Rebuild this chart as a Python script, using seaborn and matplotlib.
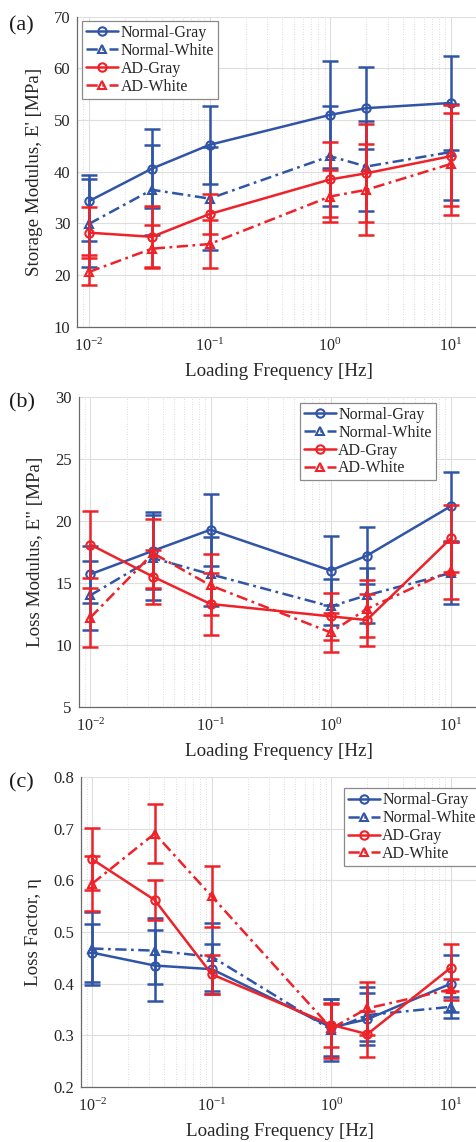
import numpy as np
import pandas as pd
import matplotlib
matplotlib.use('Agg')
import matplotlib.pyplot as plt
import seaborn as sns
from matplotlib.ticker import LogLocator, MultipleLocator, NullFormatter

# loading frequencies [Hz]
freq = [0.01, 0.0333, 0.1, 1.0, 2.0, 10.0]
groups = ['Normal-Gray', 'Normal-White', 'AD-Gray', 'AD-White']

# (a) storage modulus E' [MPa] : mean, bottom and top of error bar
storage_mean = {'Normal-Gray': [34.3, 40.6, 45.2, 51.0, 52.3, 53.3],
                'Normal-White': [29.9, 36.5, 34.8, 43.0, 41.0, 43.8],
                'AD-Gray': [28.2, 27.4, 31.8, 38.5, 39.7, 43.0],
                'AD-White': [20.6, 25.1, 26.0, 35.2, 36.5, 41.5]}
storage_lo = {'Normal-Gray': [26.5, 33.0, 37.7, 40.7, 44.3, 44.2],
              'Normal-White': [21.5, 27.8, 24.8, 33.4, 32.3, 34.5],
              'AD-Gray': [23.3, 21.4, 27.9, 31.2, 30.3, 33.3],
              'AD-White': [18.0, 21.6, 21.4, 30.2, 27.7, 31.6]}
storage_hi = {'Normal-Gray': [39.3, 48.2, 52.7, 61.4, 60.3, 62.4],
              'Normal-White': [38.6, 45.2, 44.8, 52.7, 49.8, 53.1],
              'AD-Gray': [33.2, 33.3, 35.7, 45.8, 49.2, 52.9],
              'AD-White': [23.9, 29.7, 30.6, 40.3, 45.3, 51.4]}

# (b) loss modulus E'' [MPa]
loss_mean = {'Normal-Gray': [15.7, 17.6, 19.3, 16.0, 17.2, 21.2],
             'Normal-White': [14.0, 17.0, 15.7, 13.1, 14.0, 15.8],
             'AD-Gray': [18.1, 15.5, 13.3, 12.3, 12.0, 18.6],
             'AD-White': [12.2, 17.4, 14.8, 11.0, 12.9, 16.0]}
loss_lo = {'Normal-Gray': [13.4, 14.5, 16.4, 13.2, 14.9, 18.4],
           'Normal-White': [11.2, 13.6, 13.1, 11.6, 11.8, 13.3],
           'AD-Gray': [15.4, 13.3, 10.8, 10.4, 9.9, 15.9],
           'AD-White': [9.8, 14.6, 12.4, 9.4, 10.6, 13.7]}
loss_hi = {'Normal-Gray': [18.0, 20.7, 22.2, 18.8, 19.5, 24.0],
           'Normal-White': [16.8, 20.5, 18.7, 15.3, 16.2, 18.3],
           'AD-Gray': [20.8, 17.7, 15.8, 14.2, 14.1, 21.3],
           'AD-White': [14.6, 20.2, 17.3, 12.6, 15.2, 18.3]}

# (c) loss factor eta
eta_mean = {'Normal-Gray': [0.460, 0.435, 0.428, 0.315, 0.331, 0.400],
            'Normal-White': [0.468, 0.464, 0.452, 0.310, 0.339, 0.355],
            'AD-Gray': [0.641, 0.562, 0.418, 0.320, 0.302, 0.431],
            'AD-White': [0.594, 0.691, 0.569, 0.313, 0.352, 0.389]}
eta_lo = {'Normal-Gray': [0.404, 0.366, 0.380, 0.259, 0.281, 0.345],
          'Normal-White': [0.397, 0.400, 0.386, 0.250, 0.288, 0.333],
          'AD-Gray': [0.581, 0.523, 0.380, 0.278, 0.258, 0.386],
          'AD-White': [0.541, 0.634, 0.510, 0.256, 0.300, 0.369]}
eta_hi = {'Normal-Gray': [0.516, 0.504, 0.477, 0.371, 0.381, 0.455],
          'Normal-White': [0.539, 0.528, 0.518, 0.370, 0.394, 0.374],
          'AD-Gray': [0.701, 0.601, 0.456, 0.362, 0.346, 0.476],
          'AD-White': [0.647, 0.748, 0.628, 0.360, 0.404, 0.409]}

blue = '#3155a6'
red = '#ee2228'
dashdot = (0, (4.5, 1.8, 1.1, 1.8))
styles = {'Normal-Gray': (blue, '-', 'o'),
          'Normal-White': (blue, dashdot, '^'),
          'AD-Gray': (red, '-', 'o'),
          'AD-White': (red, dashdot, '^')}

sns.set_style('white')
plt.rcParams['font.family'] = ['Liberation Serif', 'DejaVu Serif']
plt.rcParams['mathtext.fontset'] = 'stix'
plt.rcParams['axes.unicode_minus'] = False


def draw_panel(ax, mean, lo, hi, ylim, ystep, ylabel, leg_xy):
    for g in groups:
        col, ls, mk = styles[g]
        m = np.array(mean[g])
        err = [m - np.array(lo[g]), np.array(hi[g]) - m]
        ax.errorbar(freq, m, yerr=err, fmt='none', ecolor=col,
                    elinewidth=1.8, capsize=5.5, capthick=1.8)
        df = pd.DataFrame({'freq': freq, 'val': m})
        sns.lineplot(data=df, x='freq', y='val', ax=ax, color=col,
                     linestyle=ls, marker=mk, markersize=6, mfc='none',
                     mec=col, mew=1.5, lw=1.8, label=g, sort=False,
                     errorbar=None)
    ax.set_xscale('log')
    ax.set_xlim(0.008, 17.5)
    ax.set_ylim(*ylim)
    ax.yaxis.set_major_locator(MultipleLocator(ystep))
    ax.xaxis.set_major_locator(LogLocator(base=10, numticks=10))
    ax.xaxis.set_minor_locator(LogLocator(base=10, subs=np.arange(2, 10), numticks=20))
    ax.xaxis.set_minor_formatter(NullFormatter())
    ax.grid(which='major', color='#dedede', lw=0.8, ls='-')
    ax.grid(which='minor', axis='x', color='#d2d2d2', lw=0.6, ls=(0, (1, 2)))
    ax.set_axisbelow(True)
    for s in ['top', 'right']:
        ax.spines[s].set_visible(False)
    for s in ['left', 'bottom']:
        ax.spines[s].set_color('#6a6a6a')
        ax.spines[s].set_linewidth(0.9)
    ax.tick_params(which='major', direction='in', length=4, width=0.8,
                   color='#6a6a6a', labelsize=12, labelcolor='#262626', pad=5)
    ax.tick_params(axis='x', which='major', labelsize=11.5, pad=8)
    ax.tick_params(which='minor', direction='in', length=2, width=0.6,
                   color='#6a6a6a')
    ax.set_xlabel('Loading Frequency [Hz]', fontsize=13.7, color='#262626', labelpad=6)
    ax.set_ylabel(ylabel, fontsize=13.7, color='#262626', labelpad=8)
    leg = ax.legend(loc='upper left', bbox_to_anchor=leg_xy, fontsize=11.5,
                    frameon=True, fancybox=False, edgecolor='#8a8a8a',
                    framealpha=1, handlelength=2.0, handletextpad=0.15,
                    labelspacing=0.12, borderpad=0.25, borderaxespad=0)
    leg.get_frame().set_linewidth(0.9)
    for t in leg.get_texts():
        t.set_color('#262626')


fig = plt.figure(figsize=(4.77, 11.42), dpi=100)
ax_a = fig.add_axes([0.162, 0.7139, 0.8443, 0.2715])
ax_b = fig.add_axes([0.165, 0.3812, 0.8413, 0.2709])
ax_c = fig.add_axes([0.1692, 0.0484, 0.8371, 0.2709])

draw_panel(ax_a, storage_mean, storage_lo, storage_hi, (10, 70), 10,
           "Storage Modulus, E' [MPa]", (0.012, 0.986))
draw_panel(ax_b, loss_mean, loss_lo, loss_hi, (5, 30), 5,
           'Loss Modulus, E" [MPa]', (0.551, 0.9825))
draw_panel(ax_c, eta_mean, eta_lo, eta_hi, (0.2, 0.8), 0.1,
           'Loss Factor, η', (0.659, 0.9645))

for tag, y in [('(a)', 0.9777), ('(b)', 0.647), ('(c)', 0.3143)]:
    fig.text(0.019, y, tag, fontsize=16, va='center', ha='left', color='#1a1a1a')

fig.savefig('out.png', dpi=100)
